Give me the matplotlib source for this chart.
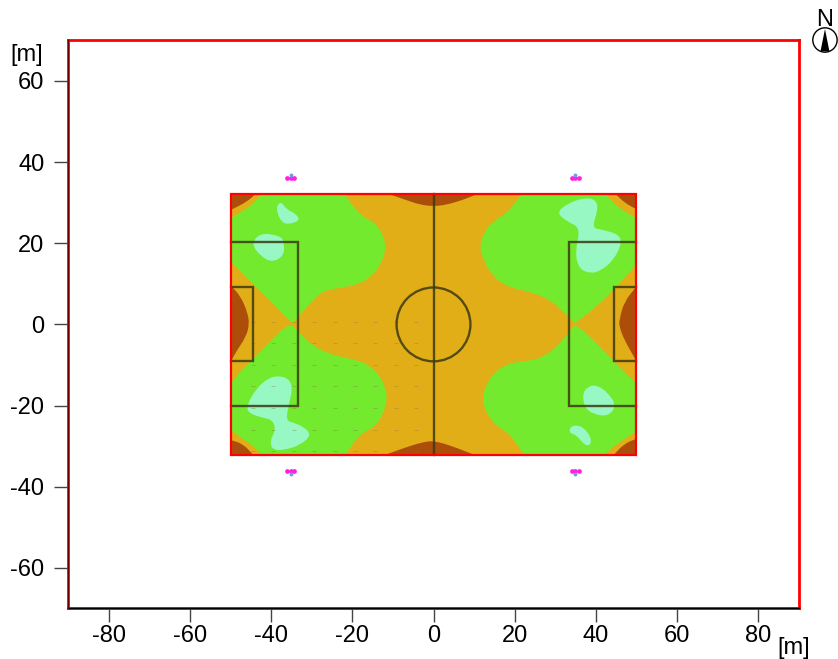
import numpy as np
import matplotlib
matplotlib.use('Agg')
from matplotlib import pyplot as plt
from matplotlib.path import Path
from matplotlib.patches import PathPatch, Circle, Rectangle, Polygon

plt.rcParams['font.family'] = ['Liberation Sans', 'DejaVu Sans']
plt.rcParams['axes.unicode_minus'] = False

x_ticks = [-80, -60, -40, -20, 0, 20, 40, 60, 80]
y_ticks = [-60, -40, -20, 0, 20, 40, 60]

# contour outlines, in metres
# a point written twice stays a sharp corner
green_tl_x = [-42.4, -42.4, -21.8, -21.8, -19.8, -17.3, -14.8, -12.8, -11.6, -12.8, -15.2, -18.9, -23.9, -27.6, -30.4, -33.3, -34.7, -34.7, -36.6, -40.3, -44.8, -50, -50, -50, -50, -45.2]
green_tl_y = [32, 32, 32, 32, 29.0, 26.4, 25.3, 22.9, 19.2, 15.1, 11.8, 9.7, 8.9, 8.1, 5.2, 1.9, 0.3, 0.3, 1.9, 6.0, 10.1, 15.6, 15.6, 26.2, 26.2, 29.0]
green_bl_x = [-35, -35, -32.9, -30, -25.5, -19.8, -16.5, -13.2, -11.2, -12.3, -14.4, -17.7, -19.8, -21.6, -21.6, -42.4, -42.4, -44.8, -47.7, -50, -50, -50, -50, -46.5, -42.8, -39.5, -37]
green_bl_y = [-0.1, -0.1, -2.2, -5.1, -7.4, -8.6, -9.6, -12.5, -17.4, -21.9, -25.2, -26.8, -29.3, -32, -32, -32, -32, -29.7, -27.7, -26, -26, -14.5, -14.5, -10.4, -6.7, -3.4, -0.9]
green_tr_x = [21.7, 21.7, 42.5, 42.5, 45.2, 50, 50, 50, 50, 45.2, 40.2, 34.9, 34.9, 30.8, 27.9, 24.6, 18, 14.3, 12.3, 11.3, 12.7, 14.7, 18, 20.1]
green_tr_y = [32, 32, 32, 32, 29, 26.2, 26.2, 14.7, 14.7, 9.3, 4.4, 0.3, 0.3, 4.4, 6.4, 7.8, 9.3, 12.2, 15.9, 19.2, 23.3, 25.3, 27.4, 29.9]
green_br_x = [34.9, 34.9, 37.8, 41, 46, 50, 50, 50, 50, 46, 43.9, 42.3, 42.3, 22.3, 22.3, 20.5, 18, 15.2, 13.1, 11.9, 13.1, 15.6, 19.7, 24.6, 27.9, 30.8, 33.2]
green_br_y = [-0.1, -0.1, -2.2, -5.5, -10.8, -14.5, -14.5, -26.4, -26.4, -28.9, -30.5, -32, -32, -32, -32, -29.3, -26.4, -24.8, -21.9, -18.6, -14.5, -11.2, -9.2, -8.9, -7.5, -5.1, -2.2]

cyan_a_x = [-37.4, -36.2, -34.1, -33.3, -35.8, -37.4, -38.4, -38.3]
cyan_a_y = [29.9, 28.2, 27.2, 25.8, 24.9, 25.5, 27.8, 29.2]
cyan_b_x = [-42.4, -38.3, -37.2, -37.2, -39.9, -42.4, -44.4]
cyan_b_y = [22.2, 21.6, 20.4, 17.1, 15.7, 17.1, 19.8]
cyan_c_x = [-37.8, -35.8, -35.1, -35.8, -36.6, -35, -32.5, -31, -33.3, -37, -39.5, -40.1, -38.8, -39.5, -41.9, -44.8, -45.2, -43.2, -40.3]
cyan_c_y = [-13.7, -14.5, -16.6, -19.4, -23.5, -24, -25, -26.8, -28.9, -30.1, -30, -28.1, -25.6, -23.4, -22.9, -21.9, -20.3, -16.6, -14.1]
cyan_d_x = [37.3, 39.8, 40.4, 39, 41, 44.8, 45.6, 43.9, 41, 38.6, 36.1, 35.3, 36.5, 33.6, 31.2, 33.6]
cyan_d_y = [30.3, 29.9, 27.8, 23.7, 23.3, 22.3, 20.4, 16.7, 14.2, 13.6, 14.7, 18.4, 23.7, 25, 27, 29]
cyan_e_x = [40.2, 42.7, 44.6, 42.7, 39.4, 37.6, 37.1, 38.2]
cyan_e_y = [-15.3, -17, -19.9, -22.3, -21.7, -20.3, -17.4, -15.7]
cyan_f_x = [34.1, 36.5, 38.6, 38.4, 36.9, 35.3, 33.7]
cyan_f_y = [-25.2, -25.2, -27.7, -29.7, -29.3, -27.2, -26.8]

brown_tl_x = [-50, -50, -43.8, -43.8, -46, -50, -50]
brown_tl_y = [32.2, 32.2, 32.2, 32.2, 30.2, 28.2, 28.2]
brown_tr_x = [44.8, 44.8, 50, 50, 50, 50, 47.2]
brown_tr_y = [32.2, 32.2, 32.2, 32.2, 28.4, 28.4, 29.9]
brown_bl_x = [-50, -50, -47, -44.4, -44.4, -50, -50]
brown_bl_y = [-28.5, -28.5, -29.4, -32.2, -32.2, -32.2, -32.2]
brown_br_x = [44.4, 44.4, 47, 50, 50, 50, 50]
brown_br_y = [-32.2, -32.2, -29.4, -28.2, -28.2, -32.2, -32.2]
brown_top_x = [-11.2, -11.2, -6.6, -3.3, 0, 3.3, 7.3, 11, 11, -11.2, -11.2]
brown_top_y = [32.2, 32.2, 30.6, 29.5, 29.1, 29.5, 30.7, 32.2, 32.2, 32.2, 32.2]
brown_bot_x = [-12, -12, -6.6, -2.5, 0, 4.1, 10.2, 10.2, -12, -12]
brown_bot_y = [-32.2, -32.2, -30.2, -29, -28.7, -29.8, -32.2, -32.2, -32.2, -32.2]
brown_left_x = [-50, -50, -47.5, -45.8, -45.4, -46.2, -48.4, -50, -50]
brown_left_y = [9.6, 9.6, 6.9, 2.8, 0, -3, -6.3, -9.2, -9.2]
brown_right_x = [50, 50, 47, 45.8, 45.8, 47, 50, 50]
brown_right_y = [9.3, 9.3, 5.6, 1.1, -0.5, -3.8, -9, -9]

# calculation points in the lower left part of the pitch
grid_x = [-44.4, -39.5, -34.4, -29.4, -24.4, -19.4, -14.4, -9.3, -4.3]
grid_y = [0.6, -4.6, -10, -15.3, -20.7, -26, -31.3]

# luminaires
lum_x = [-35.2, 35]
lum_y = [36.2, -36.2]


def outline(xs, ys, grow=1.0):
    # closed quadratic curve through the midpoints of the edges
    pts = np.column_stack([xs, ys])
    centre = pts.mean(axis=0)
    pts = centre + (pts - centre) * grow
    nxt = np.roll(pts, -1, axis=0)
    mids = (pts + nxt) / 2
    verts = [mids[-1]]
    codes = [Path.MOVETO]
    for p, m in zip(pts, mids):
        verts += [p, m]
        codes += [Path.CURVE3, Path.CURVE3]
    return Path(verts, codes)


fig = plt.figure(figsize=(8.38, 6.59), dpi=100)
ax = fig.add_axes([68 / 838, 51 / 659, 731 / 838, 568 / 659])
ax.set_xlim(-90.1, 90.1)
ax.set_ylim(-69.9, 70.1)

pitch_col = '#E2AE18'
green_col = '#74EA2F'
cyan_col = '#98F8C4'
brown_col = '#AC4E0A'

ax.add_patch(Rectangle((-50, -32.2), 100, 64.4, fc=pitch_col, ec='none', zorder=1))

for xs, ys in [(green_tl_x, green_tl_y), (green_bl_x, green_bl_y),
               (green_tr_x, green_tr_y), (green_br_x, green_br_y)]:
    ax.add_patch(PathPatch(outline(xs, ys), fc=green_col, ec='none', zorder=2))

for xs, ys in [(cyan_a_x, cyan_a_y), (cyan_b_x, cyan_b_y), (cyan_c_x, cyan_c_y),
               (cyan_d_x, cyan_d_y), (cyan_e_x, cyan_e_y), (cyan_f_x, cyan_f_y)]:
    ax.add_patch(PathPatch(outline(xs, ys, grow=1.12), fc=cyan_col, ec='none', zorder=3))

for xs, ys in [(brown_tl_x, brown_tl_y), (brown_tr_x, brown_tr_y),
               (brown_bl_x, brown_bl_y), (brown_br_x, brown_br_y),
               (brown_top_x, brown_top_y), (brown_bot_x, brown_bot_y),
               (brown_left_x, brown_left_y), (brown_right_x, brown_right_y)]:
    ax.add_patch(PathPatch(outline(xs, ys), fc=brown_col, ec='none', zorder=3))

gx, gy = np.meshgrid(grid_x, grid_y)
ax.plot(gx.ravel(), gy.ravel(), ls='none', marker='_', ms=2.5, mew=0.6,
        color='#8a7a40', alpha=0.45, zorder=4)

# field lines
line_col = '#3c3a10'
line_kw = dict(color=line_col, lw=1.7, alpha=0.85, zorder=5, solid_joinstyle='miter')
ax.plot([0, 0], [-32.2, 32.2], **line_kw)
for s in (-1, 1):
    ax.plot([s * 50, s * 33.5, s * 33.5, s * 50], [20.2, 20.2, -20.2, -20.2], **line_kw)
    ax.plot([s * 50, s * 44.5, s * 44.5, s * 50], [9.1, 9.1, -9.1, -9.1], **line_kw)
ax.add_patch(Circle((0, 0), 9.1, fc='none', ec=line_col, lw=1.7, alpha=0.85, zorder=5))

# pitch border
ax.add_patch(Rectangle((-50, -32.2), 100, 64.4, fc='none', ec='#FF0000', lw=1.6, zorder=6))

# luminaires
for lx in lum_x:
    for ly in lum_y:
        ax.plot([lx - 0.9, lx, lx + 0.9], [ly, ly, ly], ls='none', marker='o', ms=3.4,
                color='#FF20E0', mew=0, zorder=7)
        ax.plot(lx, ly + 0.6 * np.sign(ly), ls='none', marker='o', ms=2.8,
                color='#6E9CE8', mew=0, zorder=8)

# axes frame
for side in ('top', 'right', 'left', 'bottom'):
    ax.spines[side].set_color('#FF0000')
    ax.spines[side].set_linewidth(2)
ax.plot([-90.1, 90.1], [-69.9, -69.9], color='black', lw=1, clip_on=False, zorder=9)
ax.plot([-90.1, -90.1], [-69.9, 70.1], color='#700000', lw=0.8, clip_on=False, zorder=9)

ax.set_xticks(x_ticks)
ax.set_yticks(y_ticks)
ax.tick_params(axis='both', length=10, width=1, color='#444444', labelsize=17)
ax.tick_params(axis='x', pad=2)
ax.tick_params(axis='y', pad=7)

fig.text(27 / 838, 1 - 55 / 659, '[m]', fontsize=17, ha='center', va='center')
fig.text(794 / 838, 1 - 648 / 659, '[m]', fontsize=17, ha='center', va='center')

# north arrow
fig.text(825 / 838, 1 - 20 / 659, 'N', fontsize=17, ha='center', va='center')
ax.add_patch(Circle((96.5, 70.1), 3.0, fc='white', ec='black', lw=1, clip_on=False, zorder=9))
ax.add_patch(Polygon([[96.5, 72.8], [95.4, 67.3], [97.6, 67.3]], fc='black', ec='none',
                     clip_on=False, zorder=10))

fig.savefig('out.png', dpi=100)
